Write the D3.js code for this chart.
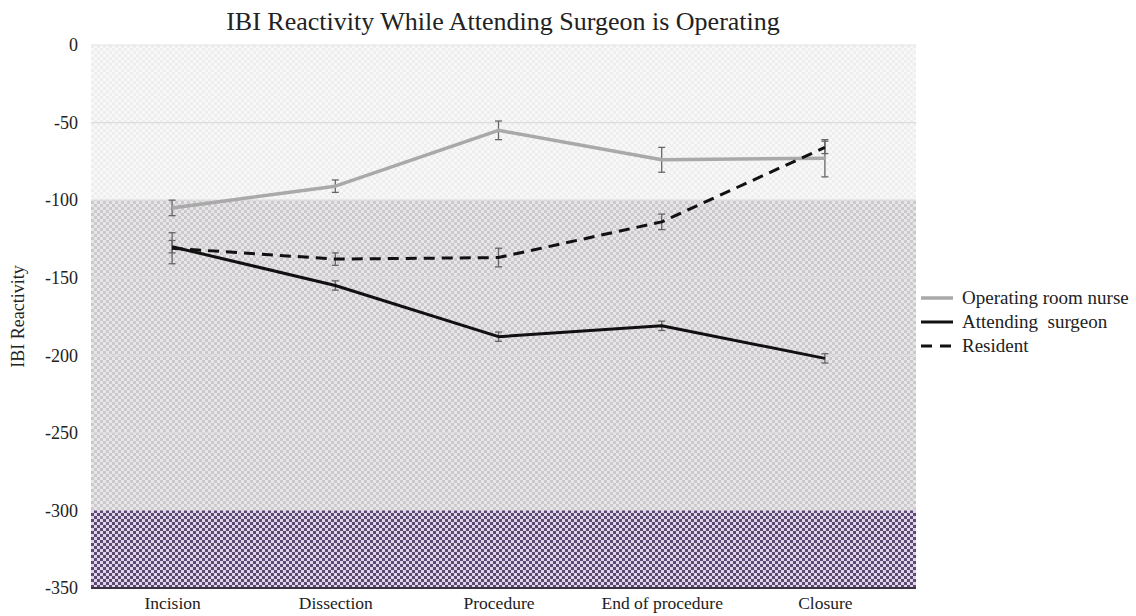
<!DOCTYPE html>
<html>
<head>
<meta charset="utf-8">
<script src="https://cdn.jsdelivr.net/npm/d3@7"></script>
<style>
  html, body { margin: 0; padding: 0; background: #fff; }
  svg { display: block; }
  svg text { font-family: "Liberation Serif", "Times New Roman", "DejaVu Serif", serif !important; fill: #222; white-space: pre; }
</style>
</head>
<body>
<svg id="chart" width="1136" height="616"></svg>
<script>
// Phases of the operation
const phases = ["Incision", "Dissection", "Procedure", "End of procedure", "Closure"];

// Mean IBI reactivity per phase
const nurseValues = [-105, -91, -55, -74, -73];
const attendingValues = [-130, -155, -188, -181, -202];
const residentValues = [-131, -138, -137, -114, -66];

// Error bar half-widths
const nurseErr = [5, 4, 6, 8, 12];
const attendingErr = [4, 3, 3, 3, 3];
const residentErr = [10, 4, 6, 5, 4];

// Axis ticks and shaded zones
const yTicks = [0, -50, -100, -150, -200, -250, -300, -350];
const zones = [
  { from: 0, to: -100, fill: "url(#patLight)" },
  { from: -100, to: -300, fill: "url(#patGrey)" },
  { from: -300, to: -350, fill: "url(#patPurple)" }
];

const seriesNames = ["Operating room nurse", "Attending  surgeon", "Resident"];

const svg = d3.select("#chart");
const plotLeft = 91, plotRight = 916, plotTop = 45, plotBottom = 588;

const x = d3.scalePoint().domain(phases).range([90.5, 906.5]).padding(0.5);
const y = d3.scaleLinear().domain([-350, 0]).range([plotBottom, plotTop]);

// Checker patterns for the zones
const defs = svg.append("defs");
function checker(id, size, bg, fg) {
  const p = defs.append("pattern").attr("id", id)
    .attr("patternUnits", "userSpaceOnUse")
    .attr("width", size * 2).attr("height", size * 2)
    .attr("x", plotLeft).attr("y", plotTop);
  p.append("rect").attr("width", size * 2).attr("height", size * 2).attr("fill", bg);
  p.append("rect").attr("width", size).attr("height", size).attr("fill", fg);
  p.append("rect").attr("x", size).attr("y", size).attr("width", size).attr("height", size).attr("fill", fg);
}
checker("patLight", 3, "#f8f8f8", "#eeeeee");
checker("patGrey", 3, "#e8e6e8", "#cbc9cb");
checker("patPurple", 3, "#e2d2ea", "#5a4b72");

svg.selectAll("rect.zone").data(zones).enter().append("rect")
  .attr("class", "zone")
  .attr("x", plotLeft).attr("width", plotRight - plotLeft)
  .attr("y", d => y(d.from))
  .attr("height", d => y(d.to) - y(d.from))
  .attr("fill", d => d.fill);

// Horizontal gridlines
svg.append("g").selectAll("line").data(yTicks.filter(t => t > -300)).enter().append("line")
  .attr("x1", plotLeft).attr("x2", plotRight)
  .attr("y1", d => y(d)).attr("y2", d => y(d))
  .attr("stroke", d => d === 0 ? "#e4e4e4" : "#dcdcdc")
  .attr("stroke-width", 1.2);

// Baseline
svg.append("line").attr("x1", plotLeft).attr("x2", plotRight)
  .attr("y1", y(-350)).attr("y2", y(-350))
  .attr("stroke", "#3c3244").attr("stroke-width", 2);

// Y axis labels (plain hyphen for negatives)
const yAxis = d3.axisLeft(y).tickValues(yTicks).tickSize(0).tickPadding(0)
  .tickFormat(d => String(d));
const gy = svg.append("g").attr("transform", `translate(${plotLeft - 13},0)`).call(yAxis);
gy.select(".domain").remove();
gy.attr("font-size", 18).attr("font-family", null);

// X axis labels
const xAxis = d3.axisBottom(x).tickSize(0).tickPadding(0);
const gx = svg.append("g").attr("transform", `translate(0,${plotBottom + 9})`).call(xAxis);
gx.select(".domain").remove();
gx.attr("font-size", 17.5).attr("font-family", null);

// Title and axis title
svg.append("text").attr("x", 503).attr("y", 30).attr("text-anchor", "middle")
  .attr("font-size", 26).text("IBI Reactivity While Attending Surgeon is Operating");
svg.append("text").attr("transform", `translate(24,${y(-175)}) rotate(-90)`)
  .attr("text-anchor", "middle").attr("font-size", 18).text("IBI Reactivity");

// Series definitions
const series = [
  { name: seriesNames[0], values: nurseValues, err: nurseErr, color: "#a9a9a9", width: 3.5, dash: null },
  { name: seriesNames[1], values: attendingValues, err: attendingErr, color: "#111", width: 3, dash: null },
  { name: seriesNames[2], values: residentValues, err: residentErr, color: "#111", width: 3, dash: "11,7" }
];

const line = d3.line().x((d, i) => x(phases[i])).y(d => y(d));

// Error bars
series.forEach(s => {
  const g = svg.append("g");
  s.values.forEach((v, i) => {
    const cx = x(phases[i]);
    const y1 = y(v + s.err[i]), y2 = y(v - s.err[i]);
    g.append("line").attr("x1", cx).attr("x2", cx).attr("y1", y1).attr("y2", y2)
      .attr("stroke", "#666").attr("stroke-width", 1.3);
    [y1, y2].forEach(yy => g.append("line")
      .attr("x1", cx - 3.5).attr("x2", cx + 3.5).attr("y1", yy).attr("y2", yy)
      .attr("stroke", "#666").attr("stroke-width", 1.3));
  });
});

// Lines
series.forEach(s => {
  svg.append("path").datum(s.values)
    .attr("d", line)
    .attr("fill", "none")
    .attr("stroke", s.color)
    .attr("stroke-width", s.width)
    .attr("stroke-dasharray", s.dash)
    .attr("stroke-linejoin", "round");
});

// Legend
const legend = svg.append("g").attr("transform", "translate(921,298)");
series.forEach((s, i) => {
  const ly = i * 24;
  legend.append("line").attr("x1", 0).attr("x2", 32).attr("y1", ly).attr("y2", ly)
    .attr("stroke", s.color).attr("stroke-width", s.width)
    .attr("stroke-dasharray", s.dash ? "11,8" : null);
  legend.append("text").attr("x", 41).attr("y", ly + 6).attr("font-size", 19).text(s.name);
});
</script>
</body>
</html>
